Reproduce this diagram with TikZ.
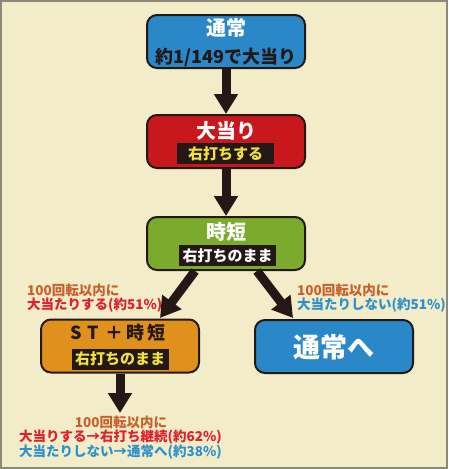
\documentclass[tikz,border=0pt]{standalone}
\usepackage{fontspec}
\newfontfamily\jp{Noto Sans CJK JP}
\usetikzlibrary{arrows.meta}
\definecolor{bg}{HTML}{F2EDC8}
\definecolor{frame}{HTML}{8C887C}
\definecolor{ink}{HTML}{231815}
\definecolor{cblue}{HTML}{2A88C8}
\definecolor{cred}{HTML}{C8181E}
\definecolor{cgreen}{HTML}{7BAA2C}
\definecolor{corange}{HTML}{E0901C}
\definecolor{cyel}{HTML}{F0E040}
\definecolor{tbrown}{HTML}{C8602C}
\definecolor{tred}{HTML}{E0202C}
\definecolor{tblue}{HTML}{2E90CC}
\tikzset{
  box/.style={draw=ink, line width=2pt, rounded corners=10pt, minimum width=158pt, minimum height=53pt, inner sep=0pt},
  ttl/.style={font=\jp\bfseries\fontsize{20}{22}\selectfont, text=white, inner sep=0pt},
  tag/.style={fill=ink, minimum width=97pt, minimum height=21pt, inner sep=0pt, font=\jp\bfseries\fontsize{15}{16}\selectfont},
  lbl/.style={font=\jp\bfseries\fontsize{13.5}{15}\selectfont, inner sep=0pt},
  flow/.style={draw=ink, line width=9pt, -{Triangle[width=23pt,length=20pt]}, shorten >=0pt}
}
\begin{document}
\begin{tikzpicture}[x=1pt,y=1pt]
\useasboundingbox (0,0) rectangle (448,-469);
\fill[bg] (0,0) rectangle (448,-469);
\draw[frame, line width=2pt] (1,-1) rectangle (447,-468);

% boxes
\node[box, fill=cblue] (n1) at (226,-41.5) {};
\node[box, fill=cred] (n2) at (226,-141.5) {};
\node[box, fill=cgreen] (n3) at (226,-243.5) {};
\node[box, fill=corange] (n4) at (120,-346) {};
\node[box, fill=cblue] (n5) at (334,-346.5) {};

% texts in boxes
\node[ttl] (t1) at (226,-28) {通常};
\node[ttl, text=ink, font=\jp\bfseries\fontsize{18}{20}\selectfont] (s1) at (226,-57) {約1/149で大当り};
\node[ttl] (t2) at (226,-131) {大当り};
\node[tag, text=cyel] (g2) at (225.5,-153.5) {右打ちする};
\node[ttl] (t3) at (226,-232) {時短};
\node[tag, text=white] (g3) at (227.5,-255.5) {右打ちのまま};
\node[ttl, text=ink, font=\jp\bfseries\fontsize{18}{20}\selectfont] (t4) at (118,-333) {S\hspace{6pt}T\hspace{6pt}＋\hspace{3pt}時\hspace{3pt}短};
\node[tag, text=cyel] (g4) at (120,-359) {右打ちのまま};
\node[ttl, font=\jp\bfseries\fontsize{27}{29}\selectfont] (t5) at (334,-347) {通常へ};

% connectors
\coordinate (d3l) at (195,-271);
\coordinate (d3r) at (257,-271);
\coordinate (e4) at (160,-318);
\coordinate (e5) at (293,-318);
\coordinate (b4) at (120,-374);
\coordinate (bt) at (120,-413);
\draw[flow] (n1.south) -- (n2.north);
\draw[flow] (n2.south) -- (n3.north);
\draw[flow] (d3l) -- (e4);
\draw[flow] (d3r) -- (e5);
\draw[flow] (b4) -- (bt);

% labels
\node[lbl, text=tbrown, anchor=west] (la1) at (27,-290) {100回転以内に};
\node[lbl, text=tred, anchor=west] (la2) at (27,-305.5) {大当たりする(約51\%)};
\node[lbl, text=tbrown, anchor=west] (lb1) at (297,-290) {100回転以内に};
\node[lbl, text=tblue, anchor=west] (lb2) at (297,-305.5) {大当たりしない(約51\%)};
\node[lbl, text=tbrown] (lc1) at (121,-422) {100回転以内に};
\node[lbl, text=tred] (lc2) at (120.5,-437) {大当りする→右打ち継続(約62\%)};
\node[lbl, text=tblue] (lc3) at (120.5,-452) {大当たりしない→通常へ(約38\%)};
\end{tikzpicture}
\end{document}
